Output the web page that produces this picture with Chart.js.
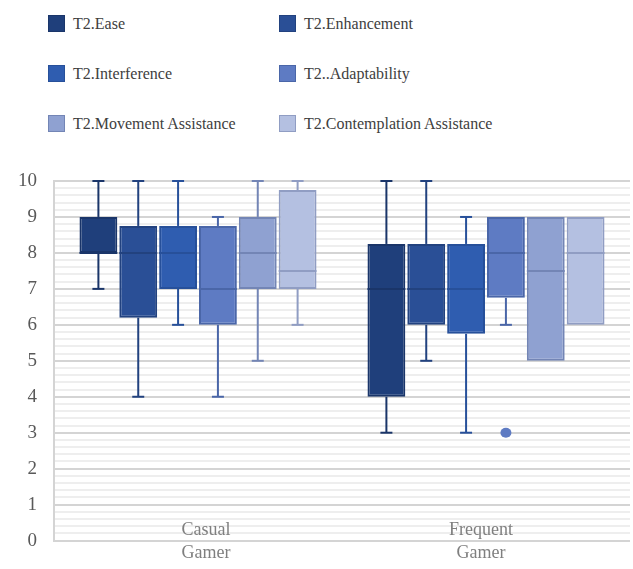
<!DOCTYPE html>
<html>
<head>
<meta charset="utf-8">
<script src="https://cdn.jsdelivr.net/npm/chart.js@4/dist/chart.umd.min.js"></script>
<style>
  body { margin: 0; background: #fff; width: 633px; height: 569px; overflow: hidden; position: relative; }
  #chart { position: absolute; left: 0; top: 0; }
  .item { position: absolute; font-family: "Liberation Serif", "Times New Roman", "DejaVu Serif", serif; font-size: 16px; color: #404040; line-height: 18px; white-space: nowrap; }
  .item span { position: absolute; left: 0; top: 0; width: 15px; height: 15px; border: 1px solid; }
  .item b { font-weight: normal; position: absolute; left: 25px; top: 0; }
</style>
</head>
<body>
<div id="legend"></div>
<canvas id="chart" width="633" height="569"></canvas>
<script>
// Box plot de T2 por tipo de jugador (cajas = barras flotantes, bigotes con plugin)
const categories = [["Casual", "Gamer"], ["Frequent", "Gamer"]];
const seriesNames = ["T2.Ease", "T2.Enhancement", "T2.Interference", "T2..Adaptability", "T2.Movement Assistance", "T2.Contemplation Assistance"];
const fills = ["#1f3f7b", "#2a4f96", "#2f5db0", "#5e7bc3", "#8fa1d1", "#b4c0e1"];
const borders = ["#1a3569", "#22427f", "#27509a", "#4a66a8", "#7385b5", "#909dc3"];

// una fila por serie: [Casual, Frequent]
const whiskerLow  = [[7, 3], [4, 5], [6, 3], [4, 6], [5, 5], [6, 6]];
const q1          = [[8, 4], [6.2, 6], [7, 5.75], [6, 6.75], [7, 5], [7, 6]];
const medians     = [[8, 7], [8, 7], [8, 7], [7, 8], [8, 7.5], [7.5, 8]];
const q3          = [[9, 8.25], [8.75, 8.25], [8.75, 8.25], [8.75, 9], [9, 9], [9.75, 9]];
const whiskerHigh = [[10, 10], [10, 10], [10, 9], [9, 9], [10, 9], [10, 9]];
const outliers    = [[[], []], [[], []], [[], []], [[], [3]], [[], []], [[], []]];
const yMin = 0, yMax = 10, minorStep = 0.2;

const serif = '"Liberation Serif", "Times New Roman", "DejaVu Serif", serif';

// Leyenda en dos columnas
const legend = document.getElementById("legend");
seriesNames.forEach((name, i) => {
  const el = document.createElement("div");
  el.className = "item";
  el.style.left = (i % 2 === 0 ? 48 : 279) + "px";
  el.style.top = (15 + Math.floor(i / 2) * 50) + "px";
  el.innerHTML = `<span style="background:${fills[i]};border-color:${borders[i]}"></span><b>${name}</b>`;
  legend.appendChild(el);
});

const isWhole = v => Math.abs(v - Math.round(v)) < 1e-6;

const boxPlugin = {
  id: "boxWhiskers",
  afterDatasetsDraw(chart) {
    const ctx = chart.ctx;
    const y = chart.scales.y;
    chart.data.datasets.forEach((ds, di) => {
      chart.getDatasetMeta(di).data.forEach((bar, i) => {
        const x = bar.x, half = bar.width / 2, cap = 6;
        ctx.save();
        ctx.strokeStyle = borders[di];
        ctx.lineWidth = 2;
        const seg = (x1, y1, x2, y2) => { ctx.beginPath(); ctx.moveTo(x1, y1); ctx.lineTo(x2, y2); ctx.stroke(); };
        // bigote superior
        if (whiskerHigh[di][i] > q3[di][i]) {
          const yt = y.getPixelForValue(whiskerHigh[di][i]);
          seg(x, y.getPixelForValue(q3[di][i]), x, yt);
          seg(x - cap, yt, x + cap, yt);
        }
        // bigote inferior
        if (whiskerLow[di][i] < q1[di][i]) {
          const yb = y.getPixelForValue(whiskerLow[di][i]);
          seg(x, y.getPixelForValue(q1[di][i]), x, yb);
          seg(x - cap, yb, x + cap, yb);
        }
        // mediana
        const ym = y.getPixelForValue(medians[di][i]);
        seg(x - half, ym, x + half, ym);
        // atipicos
        ctx.fillStyle = fills[di];
        outliers[di][i].forEach(v => {
          ctx.beginPath();
          ctx.ellipse(x, y.getPixelForValue(v), 5.5, 5, 0, 0, Math.PI * 2);
          ctx.fill();
        });
        ctx.restore();
      });
    });
  },
  afterDraw(chart) {
    // etiquetas de categoria (dos lineas, sobre el area como en el original)
    const ctx = chart.ctx;
    const xs = chart.scales.x;
    const bottom = chart.chartArea.bottom;
    ctx.save();
    ctx.font = "18px " + serif;
    ctx.fillStyle = "#7f7f7f";
    ctx.textAlign = "center";
    ctx.textBaseline = "middle";
    categories.forEach((lines, i) => {
      const x = xs.getPixelForValue(i) + (i === 0 ? 8 : -5);
      lines.forEach((t, k) => ctx.fillText(t, x, bottom - 10 + k * 23));
    });
    ctx.restore();
  }
};

new Chart(document.getElementById("chart"), {
  type: "bar",
  data: {
    labels: categories.map(c => c.join(" ")),
    datasets: seriesNames.map((name, di) => ({
      label: name,
      data: q1[di].map((v, i) => [v, q3[di][i]]),
      backgroundColor: fills[di],
      borderColor: borders[di],
      borderWidth: 2,
      borderSkipped: false,
      categoryPercentage: 0.83,
      barPercentage: 0.95
    }))
  },
  options: {
    responsive: false,
    animation: false,
    layout: { padding: { top: 181, bottom: 21, right: 3, left: 0 } },
    plugins: { legend: { display: false }, tooltip: { enabled: false } },
    scales: {
      x: { display: false },
      y: {
        min: yMin,
        max: yMax,
        afterFit: s => { s.width = 54; },
        border: { display: true, color: "#d4d4d4", width: 2 },
        grid: {
          drawTicks: false,
          lineWidth: 2,
          color: c => isWhole(c.tick.value) ? "#d4d4d4" : "#eeeeee"
        },
        ticks: {
          stepSize: minorStep,
          autoSkip: false,
          padding: 17,
          color: "#595959",
          font: { family: serif, size: 19 },
          callback: v => isWhole(v) ? String(Math.round(v)) : ""
        }
      }
    }
  },
  plugins: [boxPlugin]
});
</script>
</body>
</html>
